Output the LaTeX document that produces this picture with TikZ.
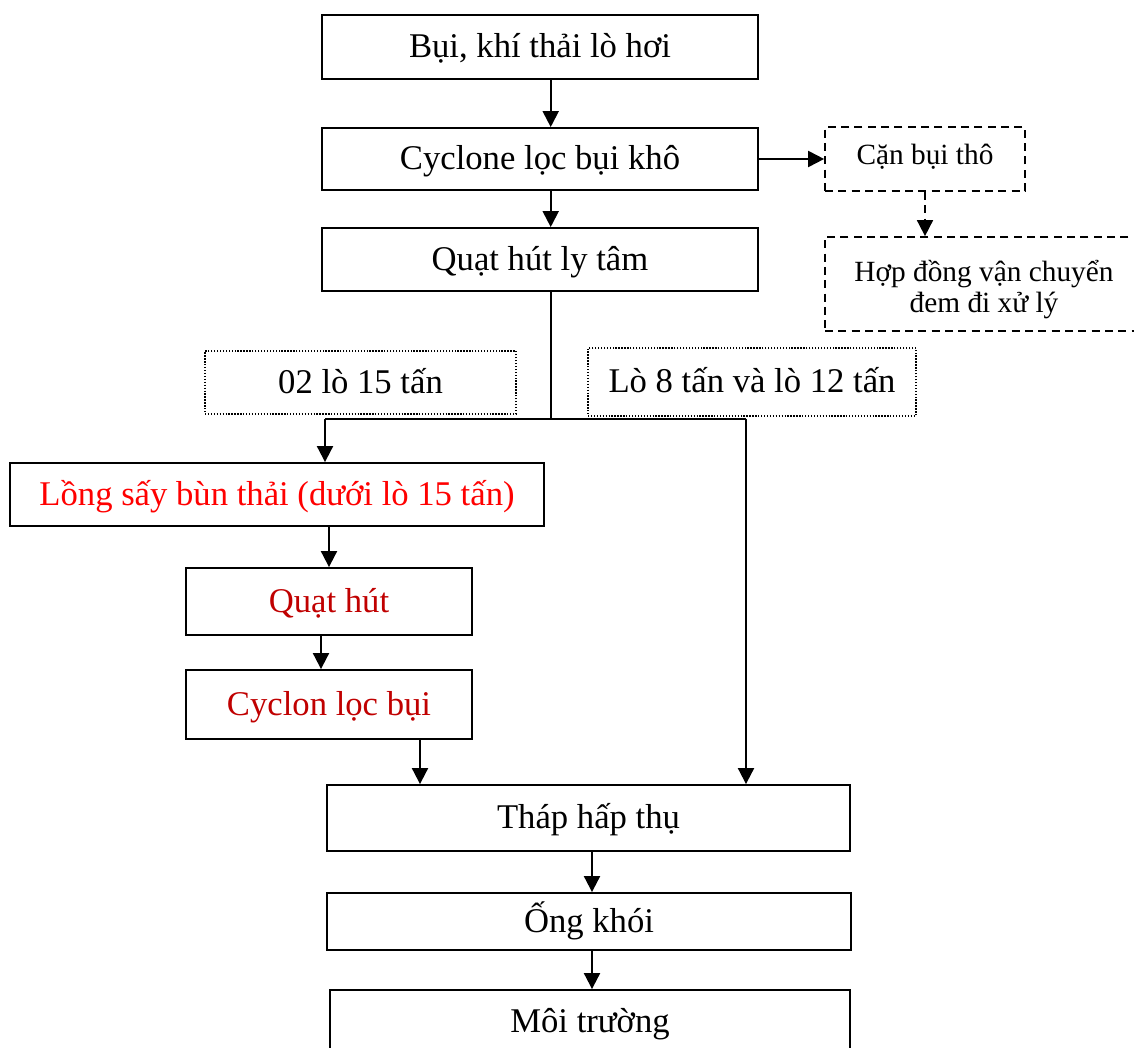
\documentclass[tikz,border=0pt]{standalone}
\usepackage{fontspec}
\setmainfont{Liberation Serif}
\usepackage{xcolor}
\usepackage{tikz}
\usetikzlibrary{arrows.meta,calc}
\usetikzlibrary{positioning}
\definecolor{darkred}{RGB}{192,0,0}

\tikzset{
  box/.style={draw, line width=1.4pt, inner sep=0pt, align=center, font=\fontsize{26}{30}\selectfont, text height=20pt, text depth=4pt},
  dashbox/.style={draw, line width=1.3pt, dash pattern=on 6pt off 4pt, inner sep=0pt, align=center, font=\fontsize{22}{23.5}\selectfont},
  dotbox/.style={draw, line width=1pt, dash pattern=on 1pt off 1.2pt, inner sep=0pt, font=\fontsize{26}{30}\selectfont, text height=20pt, text depth=4pt},
  arr/.style={line width=1.5pt, -{Triangle[length=12pt,width=12pt]}},
  link/.style={line width=1.5pt}
}

\begin{document}
\begin{tikzpicture}[x=0.75pt,y=0.75pt,yscale=-1,xscale=1]
\path[use as bounding box, clip] (0,0) rectangle (1134,1048);

% main column
\node[box, minimum width=327pt, minimum height=48pt] (bui) at (540,47) {Bụi, khí thải lò hơi};
\node[box, minimum width=327pt, minimum height=46.5pt] (cyc) at (540,159) {Cyclone lọc bụi khô};
\node[box, minimum width=327pt, minimum height=47.25pt] (quat) at (540,259.5) {Quạt hút ly tâm};

% dust residue
\node[dashbox, minimum width=150pt, minimum height=48pt, text height=14pt, text depth=5pt] (can) at (925,159) {Cặn bụi thô};
\node[dashbox, minimum width=238.5pt, minimum height=70.5pt] (hopdong) at (984,284) {\rule{0pt}{24pt}Hợp đồng vận chuyển\\đem đi xử lý};

% branch labels
\node[dotbox, minimum width=233.25pt, minimum height=47.25pt] (lo15) at (360.5,382.5) {02 lò 15 tấn};
\node[dotbox, minimum width=246pt, minimum height=51pt] (lo812) at (752,382) {Lò 8 tấn và lò 12 tấn};

% left branch
\node[box, text=red, minimum width=400.5pt, minimum height=47.25pt] (long) at (277,494.5) {Lồng sấy bùn thải (dưới lò 15 tấn)};
\node[box, text=darkred, minimum width=214.5pt, minimum height=50.25pt] (qh) at (329,601.5) {Quạt hút};
\node[box, text=darkred, minimum width=214.5pt, minimum height=51.75pt] (cl) at (329,704.5) {Cyclon lọc bụi};

% lower column
\node[box, minimum width=392.25pt, minimum height=49.5pt] (thap) at (588.5,818) {Tháp hấp thụ};
\node[box, minimum width=393pt, minimum height=42.75pt] (ong) at (589,921.5) {Ống khói};
\node[box, minimum width=390pt, minimum height=48pt] (moi) at (590,1022) {Môi trường};

% junction points
\coordinate (jn) at (550.7,419);
\coordinate (jl) at (325,419);
\coordinate (jr) at (746,419);
\coordinate (xc) at (420,742);
\coordinate (xo) at (592,900);

% connectors
\draw[arr] (bui.south -| jn) -- (cyc.north -| jn);
\draw[arr] (cyc.south -| jn) -- (quat.north -| jn);
\draw[arr] (cyc.east) -- (can.west);
\draw[arr, line width=1.3pt, dash pattern=on 6pt off 4pt] (can.south) -- (can.south |- hopdong.north);
\draw[link] (quat.south -| jn) -- (jn);
\draw[link] (jl) -- (jr);
\draw[arr] (jl) -- (long.north -| jl);
\draw[arr] (jr) -- (thap.north -| jr);
\draw[arr] (long.south -| qh) -- (qh.north);
\draw[arr] ([xshift=-6pt]qh.south) -- ([xshift=-6pt]cl.north);
\draw[arr] (cl.south -| xc) -- (thap.north -| xc);
\draw[arr] (thap.south -| xo) -- (ong.north -| xo);
\draw[arr] (ong.south -| xo) -- (moi.north -| xo);

\end{tikzpicture}
\end{document}
